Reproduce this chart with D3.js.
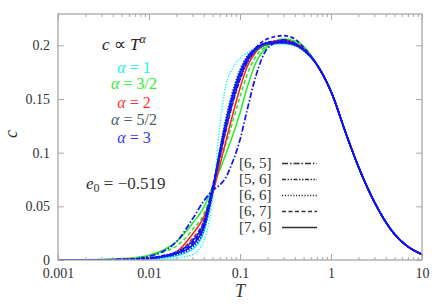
<!DOCTYPE html>
<html><head><meta charset="utf-8">
<script src="https://cdn.jsdelivr.net/npm/d3@7"></script>
</head>
<body style="margin:0"><svg id="chart" width="436" height="306"></svg>
<script>
// ---------------- data ----------------
const xTicks = [0.001, 0.01, 0.1, 1, 10];
const xTickLabels = ["0.001", "0.01", "0.1", "1", "10"];
const yTicks = [0, 0.05, 0.1, 0.15, 0.2];
const yTickLabels = ["0", "0.05", "0.1", "0.15", "0.2"];

// temperatures at which curves are read (low / peak region)
const T_low = [0.001, 0.002, 0.003, 0.005, 0.007, 0.01, 0.015, 0.02, 0.03, 0.04, 0.05,
               0.06, 0.07, 0.08, 0.1, 0.12, 0.15, 0.2, 0.3, 0.4, 0.5];
// common high-temperature tail (all curves coincide there)
const T_tail = [0.7, 1, 1.5, 2, 3, 5, 7, 10];
const c_tail = [0.182, 0.157, 0.115, 0.087, 0.054, 0.024, 0.0125, 0.0052];

// alpha values and approximants
const alphaLabels = ["1", "3/2", "2", "5/2", "3"];
const approximants = ["[6, 5]", "[5, 6]", "[6, 6]", "[6, 7]", "[7, 6]"];

// series: values at T_low
const c_a1_66 = [0, 0, 0, 0, 0, 0.0002, 0.0008, 0.0018, 0.005, 0.018, 0.056, 0.125, 0.163, 0.176, 0.188, 0.193, 0.197, 0.200, 0.201, 0.200, 0.195];
const c_a1_76 = [0, 0, 0, 0.0001, 0.0003, 0.0008, 0.002, 0.004, 0.010, 0.026, 0.062, 0.100, 0.130, 0.150, 0.176, 0.189, 0.197, 0.201, 0.202, 0.200, 0.196];
const c_a15_76 = [0, 0.0002, 0.0005, 0.0012, 0.0022, 0.0045, 0.010, 0.017, 0.034, 0.049, 0.068, 0.084, 0.099, 0.112, 0.137, 0.161, 0.184, 0.199, 0.206, 0.204, 0.199];
const c_a15_67 = [0, 0.0002, 0.0004, 0.0009, 0.0017, 0.0035, 0.008, 0.013, 0.028, 0.043, 0.066, 0.090, 0.108, 0.124, 0.152, 0.173, 0.190, 0.200, 0.205, 0.203, 0.198];
const c_a2_76 = [0, 0.0001, 0.0002, 0.0005, 0.001, 0.002, 0.004, 0.0075, 0.024, 0.040, 0.062, 0.088, 0.111, 0.130, 0.160, 0.180, 0.194, 0.202, 0.205, 0.202, 0.197];
const c_a2_67 = [0, 0.0001, 0.0002, 0.0004, 0.0008, 0.0018, 0.0038, 0.007, 0.020, 0.036, 0.064, 0.094, 0.120, 0.140, 0.168, 0.184, 0.195, 0.201, 0.204, 0.201, 0.196];
const c_a25_76 = [0, 0.00005, 0.0001, 0.0004, 0.0008, 0.0017, 0.004, 0.0068, 0.018, 0.034, 0.064, 0.096, 0.122, 0.142, 0.170, 0.185, 0.195, 0.201, 0.203, 0.201, 0.196];
const c_a25_67 = [0, 0.00005, 0.0001, 0.0003, 0.0007, 0.0015, 0.0035, 0.006, 0.015, 0.031, 0.064, 0.099, 0.126, 0.146, 0.172, 0.187, 0.196, 0.201, 0.203, 0.201, 0.196];
const c_a25_66 = [0, 0.00005, 0.0001, 0.0003, 0.0006, 0.0013, 0.0032, 0.0055, 0.013, 0.029, 0.063, 0.101, 0.129, 0.149, 0.175, 0.189, 0.197, 0.201, 0.202, 0.200, 0.195];
const c_a3_65 = [0, 0.0001, 0.0002, 0.0006, 0.0013, 0.0035, 0.009, 0.017, 0.038, 0.055, 0.065, 0.070, 0.077, 0.088, 0.112, 0.140, 0.172, 0.197, 0.205, 0.202, 0.196];
const c_a3_56 = [0, 0.0001, 0.0002, 0.0004, 0.0009, 0.002, 0.0045, 0.0075, 0.018, 0.036, 0.068, 0.097, 0.122, 0.142, 0.168, 0.184, 0.196, 0.203, 0.204, 0.201, 0.196];
const c_a3_66 = [0, 0.00005, 0.0001, 0.0002, 0.0005, 0.0012, 0.003, 0.005, 0.012, 0.028, 0.062, 0.103, 0.132, 0.152, 0.177, 0.190, 0.198, 0.202, 0.202, 0.200, 0.195];
const c_a3_67 = [0, 0.00005, 0.0001, 0.0003, 0.0007, 0.0016, 0.004, 0.0068, 0.016, 0.034, 0.068, 0.099, 0.124, 0.144, 0.170, 0.186, 0.198, 0.206, 0.209, 0.206, 0.198];
const c_a3_76 = [0, 0.00005, 0.0001, 0.0003, 0.0007, 0.0015, 0.0035, 0.006, 0.014, 0.031, 0.065, 0.101, 0.128, 0.148, 0.174, 0.188, 0.197, 0.202, 0.203, 0.201, 0.196];

// [alpha index, approximant index, values]
const series = [
  [0, 2, c_a1_66], [0, 4, c_a1_76],
  [1, 3, c_a15_67], [1, 4, c_a15_76],
  [2, 3, c_a2_67], [2, 4, c_a2_76],
  [3, 2, c_a25_66], [3, 3, c_a25_67], [3, 4, c_a25_76],
  [4, 0, c_a3_65], [4, 1, c_a3_56], [4, 2, c_a3_66], [4, 3, c_a3_67], [4, 4, c_a3_76]
];

// ---------------- styles ----------------
const alphaColors = ["#19f0f5", "#22ee22", "#ff2222", "#445f5f", "#1010ff"];
const alphaTextColors = ["#22eeff", "#33ee33", "#ff3333", "#4a6262", "#3434ff"];
const dashes = ["6,2,1.5,2", "4,1.5,1.5,1.5,1.5,1.5", "1.2,1.6", "4,2.5", null];
const FONT = "serif";

// ---------------- layout ----------------
const L = 58, R = 422, Tp = 14, B = 260;
const svg = d3.select("#chart");

const x = d3.scaleLog().domain([0.001, 10]).range([L, R]);
const y = d3.scaleLinear().domain([0, 0.2292]).range([B, Tp]);

const frameColor = "#a8a8a8";
const textColor = "#333";

// curves
const line = d3.line().x(d => x(d[0])).y(d => y(d[1])).curve(d3.curveMonotoneX);
svg.append("clipPath").attr("id", "clip").append("rect")
  .attr("x", L).attr("y", Tp).attr("width", R - L).attr("height", B - Tp);
const gCurves = svg.append("g").attr("clip-path", "url(#clip)");
series.forEach(([ai, pi, vals]) => {
  const pts = T_low.map((t, i) => [t, vals[i]]).concat(T_tail.map((t, i) => [t, c_tail[i]]));
  gCurves.append("path").datum(pts)
    .attr("d", line)
    .attr("fill", "none")
    .attr("stroke", alphaColors[ai])
    .attr("stroke-width", ai === 4 ? 1.7 : 1.5)
    .attr("stroke-dasharray", dashes[pi]);
});

// frame
svg.append("rect").attr("x", L).attr("y", Tp).attr("width", R - L).attr("height", B - Tp)
  .attr("fill", "none").attr("stroke", frameColor).attr("stroke-width", 1.3);

// axes (ticks inward, mirrored)
const minor = [];
for (let e = -3; e < 1; e++) for (let k = 2; k <= 9; k++) minor.push(k * Math.pow(10, e));

const gB = svg.append("g").attr("transform", `translate(0,${B})`)
  .call(d3.axisBottom(x).tickValues(xTicks).tickSize(-6).tickFormat((d, i) => xTickLabels[i]));
const gT = svg.append("g").attr("transform", `translate(0,${Tp})`)
  .call(d3.axisTop(x).tickValues(xTicks).tickSize(-6).tickFormat(""));
const gBm = svg.append("g").attr("transform", `translate(0,${B})`)
  .call(d3.axisBottom(x).tickValues(minor).tickSize(-3).tickFormat(""));
const gTm = svg.append("g").attr("transform", `translate(0,${Tp})`)
  .call(d3.axisTop(x).tickValues(minor).tickSize(-3).tickFormat(""));
const gL = svg.append("g").attr("transform", `translate(${L},0)`)
  .call(d3.axisLeft(y).tickValues(yTicks).tickSize(-6).tickFormat((d, i) => yTickLabels[i]));
const gR = svg.append("g").attr("transform", `translate(${R},0)`)
  .call(d3.axisRight(y).tickValues(yTicks).tickSize(-6).tickFormat(""));

[gB, gT, gBm, gTm, gL, gR].forEach(g => {
  g.attr("font-family", FONT).attr("font-size", 14);
  g.select(".domain").remove();
  g.selectAll(".tick line").attr("stroke", frameColor).attr("stroke-width", 1);
  g.selectAll(".tick text").attr("fill", textColor).attr("font-family", FONT);
});
gB.selectAll(".tick text").attr("dy", "0").attr("y", 18);
gL.selectAll(".tick text").attr("x", -8).attr("dy", "0.33em");

// axis labels
svg.append("text").attr("x", 240).attr("y", 297).attr("text-anchor", "middle")
  .attr("font-family", FONT).attr("font-style", "italic").attr("font-size", 18).attr("fill", textColor).text("T");
svg.append("text").attr("transform", "translate(17,134) rotate(-90)").attr("text-anchor", "middle")
  .attr("font-family", FONT).attr("font-style", "italic").attr("font-size", 18).attr("fill", textColor).text("c");

// annotation c ∝ T^α
const ann = svg.append("text").attr("x", 102).attr("y", 50).attr("font-family", FONT)
  .attr("font-size", 17).attr("fill", "#222");
ann.append("tspan").attr("font-style", "italic").text("c");
ann.append("tspan").text(" \u221D ");
ann.append("tspan").attr("font-style", "italic").text("T");
ann.append("tspan").attr("font-style", "italic").attr("font-size", 12).attr("dy", -7).text("α");

// alpha labels
const alphaY = [73, 89, 108, 125, 143];
alphaLabels.forEach((lab, i) => {
  const t = svg.append("text").attr("x", 134).attr("y", alphaY[i]).attr("text-anchor", "middle")
    .attr("font-family", FONT).attr("font-size", 16).attr("fill", alphaTextColors[i]);
  t.append("tspan").attr("font-style", "italic").text("α");
  t.append("tspan").text(" = " + lab);
});

// e0 label
const e0 = svg.append("text").attr("x", 86).attr("y", 189).attr("font-family", FONT)
  .attr("font-size", 17).attr("fill", "#333");
e0.append("tspan").attr("font-style", "italic").text("e");
e0.append("tspan").attr("font-size", 12).attr("dy", 3).text("0");
e0.append("tspan").attr("dy", -3).text(" = \u22120.519");

// approximant legend
const legY = [163.5, 179.5, 195.5, 211.5, 227.5];
approximants.forEach((lab, i) => {
  svg.append("text").attr("x", 239).attr("y", legY[i]).attr("dy", "0.33em")
    .attr("font-family", FONT).attr("font-size", 15).attr("fill", "#333").text(lab);
  svg.append("line").attr("x1", 282).attr("x2", 317).attr("y1", legY[i]).attr("y2", legY[i])
    .attr("stroke", "#333").attr("stroke-width", 1.3).attr("stroke-dasharray", dashes[i]);
});
</script></body></html>
